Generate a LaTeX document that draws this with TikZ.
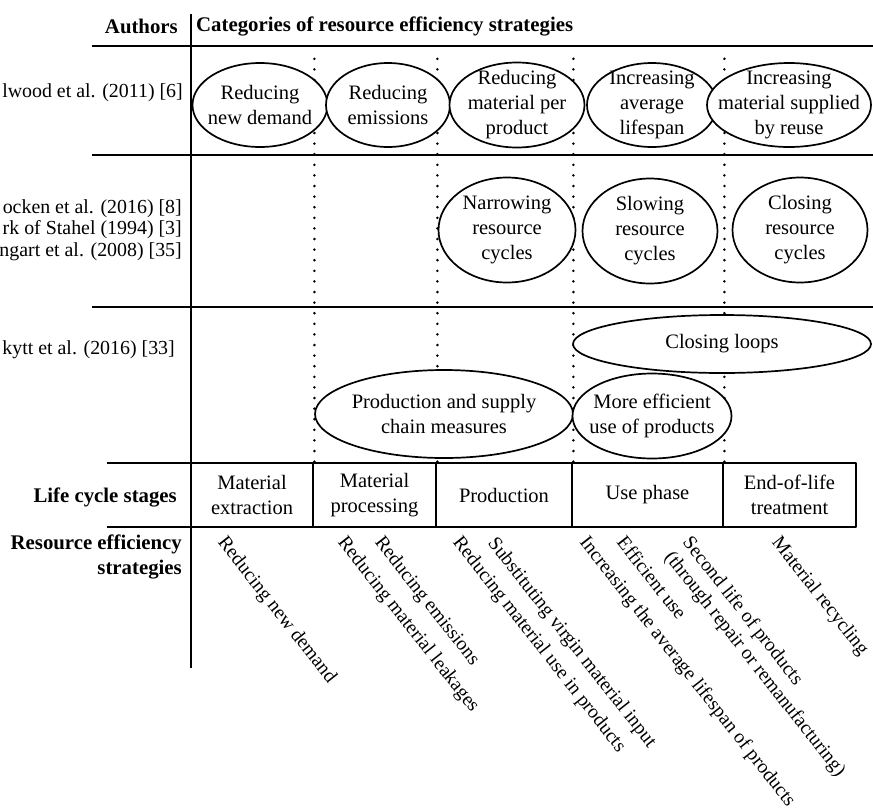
\documentclass[tikz,border=0pt]{standalone}
\usepackage{fontspec}
\setmainfont{Liberation Serif}
\usetikzlibrary{shapes.geometric}
\begin{document}
\begin{tikzpicture}[x=1pt,y=-1pt,line join=round,font=\fontsize{20.5}{25}\selectfont,
	rule/.style={line width=2pt},
	sep/.style={line width=2.8pt,line cap=round,dash pattern=on 0pt off 10.6pt},
	cat/.style={ellipse,draw,line width=1.7pt,fill=white,inner sep=0pt,
		label={[align=center,inner sep=0pt]center:#1}},
	stage/.style={rectangle,draw,line width=2.8pt,inner sep=0pt,align=center,minimum height=64},
	strat/.style={rotate=-51.8,anchor=north west,inner sep=0pt,align=left,font=\fontsize{19.6}{23}\selectfont},
	who/.style={anchor=east,inner sep=0pt,align=right,font=\fontsize{19.9}{24}\selectfont},
	head/.style={inner sep=0pt,align=right,font=\fontsize{20.8}{25}\selectfont\bfseries}]
	\useasboundingbox (0,0) rectangle (873,807);
	\def\ya{46} \def\yb{155} \def\yc{307}
	% header
	\node[head,anchor=east] (authors) at (178,26) {Authors};
	\node[head,anchor=west] (cats) at (196,26) {Categories of resource efficiency strategies};
	\draw[rule] (92,\ya) -- (873,\ya);
	\draw[rule] (92,\yb) -- (873,\yb);
	\draw[rule] (92,\yc) -- (873,\yc);
	\draw[rule] (107,463) -- (191,463) (107,527) -- (191,527);
	\draw[rule] (191,14) -- (191,668);
	% life cycle stages
	\node[stage,minimum width=122] (s1) at (252,495) {Material\\extraction};
	\node[stage,minimum width=123] (s2) at (374.5,495) {Material\\processing};
	\node[stage,minimum width=136] (s3) at (504,495) {Production};
	\node[stage,minimum width=151] (s4) at (647.5,495) {Use phase};
	\node[stage,minimum width=133] (s5) at (789.5,495) {End-of-life\\treatment};
	\foreach \s in {s1,s2,s3,s4}
		\draw[sep] (\s.north east) -- (\s.north east |- 0,50);
	% authors
	\node[who] (allwood) at (183,93) {lwood et al. (2011) [6]};
	\node[who,font=\fontsize{19.9}{21.5}\selectfont] (bocken) at (182,230) {ocken et al. (2016) [8]\\rk of Stahel (1994) [3]\\ngart et al. (2008) [35]};
	\node[who] (kytt) at (175,350) {kytt et al. (2016) [33]};
	\node[head,anchor=east] (lcs) at (177,497) {Life cycle stages};
	\node[head,anchor=east] (res) at (182,557) {Resource efficiency\\strategies};
	% categories
	\node[cat={Reducing\\new demand},minimum width=135,minimum height=84] (e11) at (260,105) {};
	\node[cat={Reducing\\emissions},minimum width=124,minimum height=84] (e12) at (388,105) {};
	\node[cat={Reducing\\material per\\product},minimum width=135,minimum height=85] (e13) at (517,105) {};
	\node[cat={Increasing\\average\\lifespan},minimum width=130,minimum height=84] (e14) at (652,105) {};
	\node[cat={Increasing\\material supplied\\by reuse},minimum width=164,minimum height=84] (e15) at (789,105) {};
	\node[cat={Narrowing\\resource\\cycles},minimum width=137,minimum height=105] (e21) at (507,230) {};
	\node[cat={Slowing\\resource\\cycles},minimum width=135,minimum height=105] (e22) at (650,231) {};
	\node[cat={Closing\\resource\\cycles},minimum width=135,minimum height=105] (e23) at (800,230) {};
	\node[cat={Closing loops},minimum width=298,minimum height=58] (e31) at (722,344) {};
	\node[cat={Production and supply\\chain measures},minimum width=258,minimum height=88] (e32) at (444,414) {};
	\node[cat={More efficient\\use of products},minimum width=159,minimum height=85] (e33) at (652,416) {};
	% strategies
	\node[strat] (r1) at (228,534) {Reducing new demand};
	\node[strat] (r2) at (348,534) {Reducing material leakages};
	\node[strat] (r3) at (385,534) {Reducing emissions};
	\node[strat] (r4) at (463,534) {Reducing material use in products};
	\node[strat] (r5) at (498,535) {Substituting virgin material input};
	\node[strat] (r6) at (590,534) {Increasing the average lifespan of products};
	\node[strat] (r7) at (627,534) {Efficient use};
	\node[strat] (r8) at (693,534) {Second life of products\\(through repair or remanufacturing)};
	\node[strat] (r9) at (782,534) {Material recycling};
\end{tikzpicture}
\end{document}
